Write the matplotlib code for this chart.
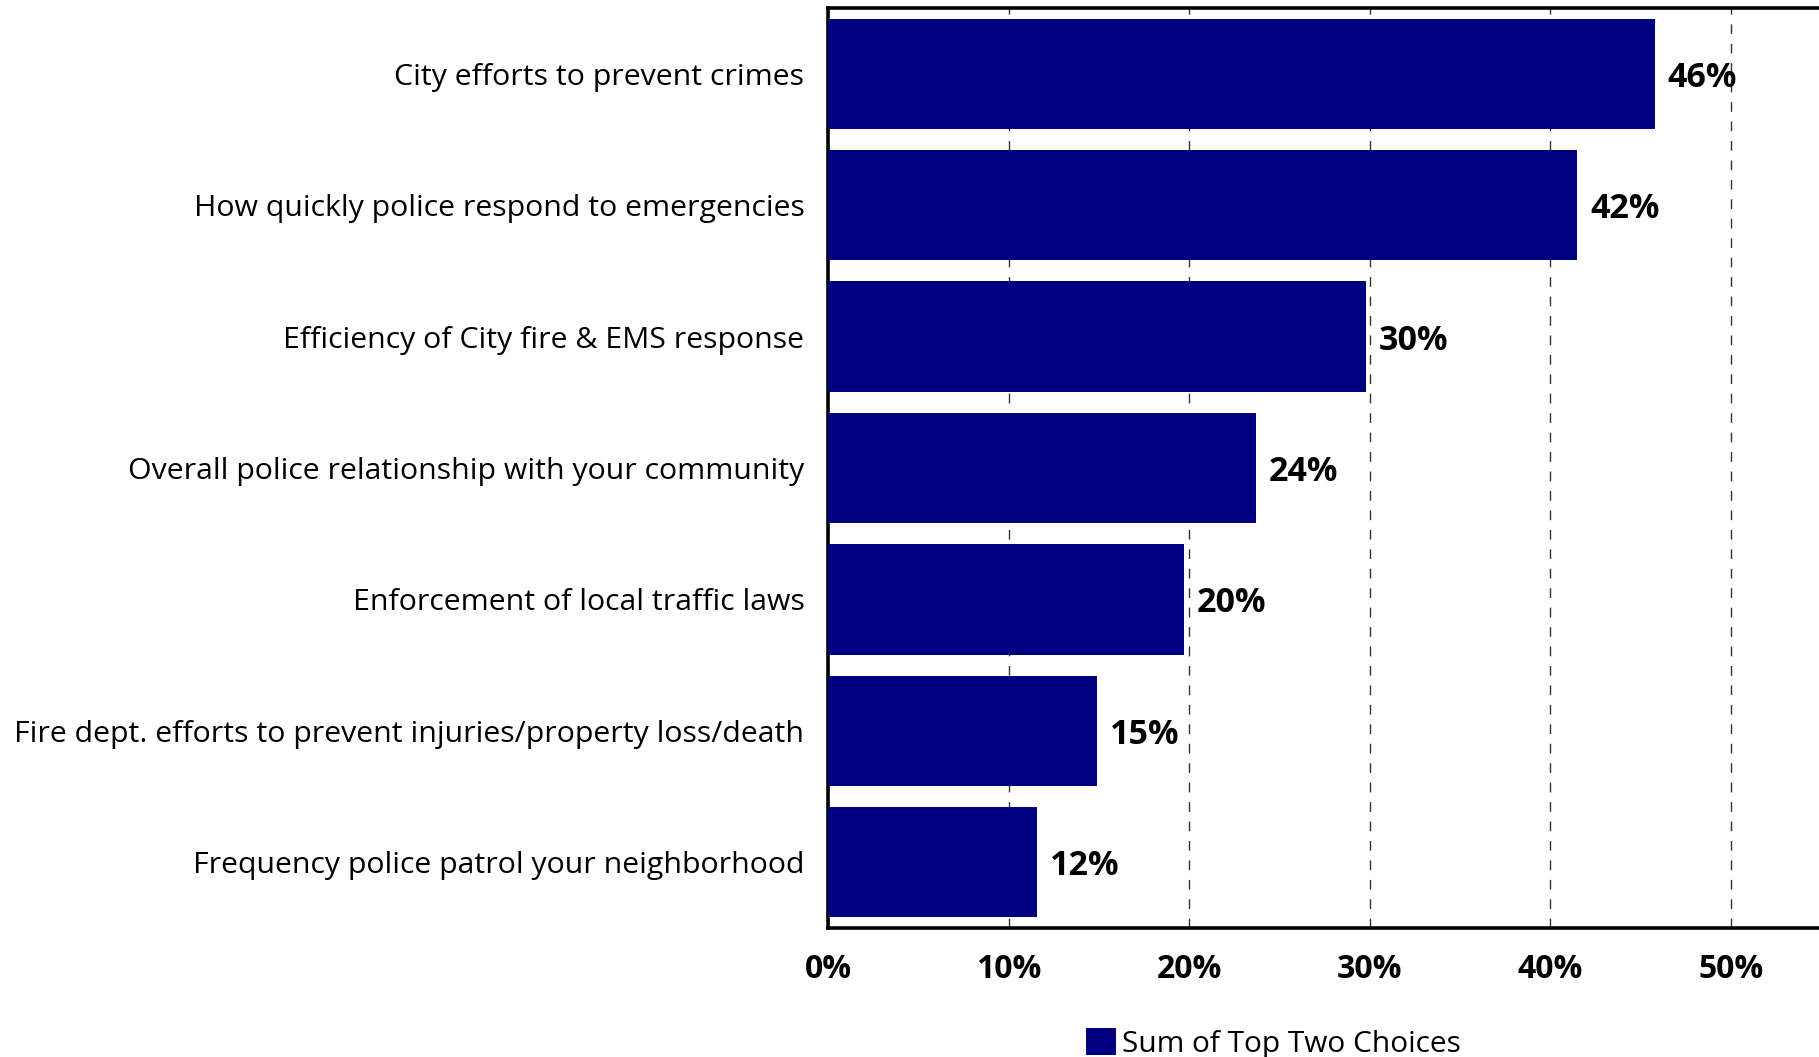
import matplotlib.pyplot as plt
from matplotlib.ticker import FuncFormatter

categories = [
    "City efforts to prevent crimes",
    "How quickly police respond to emergencies",
    "Efficiency of City fire & EMS response",
    "Overall police relationship with your community",
    "Enforcement of local traffic laws",
    "Fire dept. efforts to prevent injuries/property loss/death",
    "Frequency police patrol your neighborhood",
]
top_two = [45.8, 41.5, 29.8, 23.7, 19.7, 14.9, 11.6]
x_ticks = [0, 10, 20, 30, 40, 50]
series_name = "Sum of Top Two Choices"

plt.rcParams['font.family'] = ['Open Sans', 'DejaVu Sans']

fig = plt.figure(figsize=(18.19, 10.57), dpi=100)
ax = fig.add_axes([828 / 1819, 1 - 928 / 1057, 1 - 828 / 1819, (928 - 8) / 1057])

ypos = list(range(len(categories)))
bars = ax.barh(ypos, top_two, height=0.84, color='#000080', label=series_name, zorder=3)

for y, v in zip(ypos, top_two):
    ax.text(v + 0.7, y + 0.03, f"{v:.0f}%", va='center', ha='left',
            fontsize=24.5, fontweight='bold', zorder=4)

ax.set_ylim(len(categories) - 0.5, -0.5)
ax.set_yticks(ypos)
ax.set_yticklabels(categories, fontsize=21.8)
ax.set_xlim(0, (1819 - 828) / 180.6 * 10)
ax.set_xticks(x_ticks)
ax.xaxis.set_major_formatter(FuncFormatter(lambda v, p: f"{v:.0f}%"))
for lab in ax.get_xticklabels():
    lab.set_fontweight('bold')
    lab.set_fontsize(23)
ax.tick_params(axis='y', length=0, pad=17)
ax.tick_params(axis='x', length=0, pad=18)

ax.grid(axis='x', color='#333333', linestyle=(0, (7, 7)), linewidth=1.0, zorder=1)
ax.spines['right'].set_visible(False)
for s in ['left', 'bottom', 'top']:
    ax.spines[s].set_linewidth(2.6)
    ax.spines[s].set_color('black')

fig.legend(handles=[bars], labels=[series_name], loc='center',
           bbox_to_anchor=(0.70, 0.013), frameon=False, fontsize=21.5,
           handlelength=1.0, handleheight=1.0, handletextpad=0.2)

fig.savefig("out.png", dpi=100)
